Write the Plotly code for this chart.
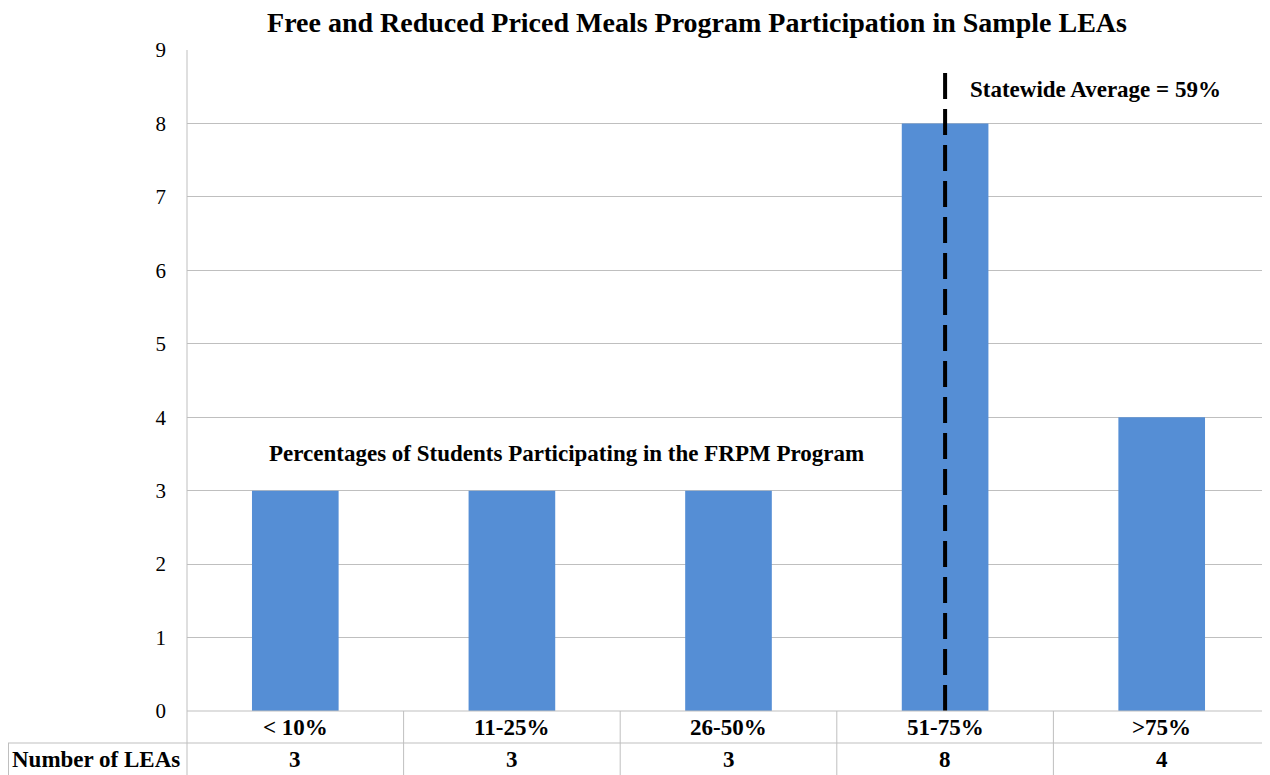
import plotly.graph_objects as go

categories = ["< 10%", "11-25%", "26-50%", "51-75%", ">75%"]
num_leas = [3, 3, 3, 8, 4]
row_label = "Number of LEAs"
title_text = "Free and Reduced Priced Meals Program Participation in Sample LEAs"
axis_note = "Percentages of Students Participating in the FRPM Program"
statewide_label = "Statewide Average = 59%"
statewide_category = "51-75%"
y_ticks = list(range(0, 10))

# page has an 8px body margin; work in page pixels and convert
OFF = 8
W, H = 1270 - OFF, 775 - OFF
PL, PT, PB, PR = 187, 50, 711, 1270  # plot area in page pixels
L, T = PL - OFF, PT - OFF
B = H - (PB - OFF)
R = W - (PR - OFF)
plot_h = PB - PT
plot_w = PR - PL

def py(page_y):
    return (PB - page_y) / plot_h

def px(page_x):
    return (page_x - PL) / plot_w

FONT = "Liberation Serif, Times New Roman, serif"
GRID = "#BFBFBF"

fig = go.Figure()
xs = list(range(len(categories)))
fig.add_trace(go.Bar(x=xs, y=num_leas, marker=dict(color="#558ED5", line=dict(width=0)),
                     width=0.4, hoverinfo="skip"))

sx = categories.index(statewide_category)
fig.add_trace(go.Scatter(x=[sx, sx], y=[0, 8.77], mode="lines",
                         line=dict(color="black", width=4, dash="26px,10px"), hoverinfo="skip"))

shapes = []
shapes.append(dict(type="line", xref="paper", yref="paper", x0=0, x1=0, y0=1, y1=py(775),
                   line=dict(color=GRID, width=1)))
shapes.append(dict(type="line", xref="paper", yref="paper", x0=0, x1=1, y0=0, y1=0,
                   line=dict(color=GRID, width=1)))
shapes.append(dict(type="line", xref="paper", yref="paper", x0=px(8), x1=1, y0=py(743), y1=py(743),
                   line=dict(color=GRID, width=1)))
shapes.append(dict(type="line", xref="paper", yref="paper", x0=px(8.5), x1=px(8.5), y0=py(743), y1=py(775),
                   line=dict(color=GRID, width=1)))
for i in range(1, len(categories)):
    shapes.append(dict(type="line", xref="x", yref="paper", x0=i - 0.5, x1=i - 0.5, y0=0, y1=py(775),
                       line=dict(color=GRID, width=1)))

TXT = dict(family=FONT, size=23, color="black")
annotations = []
for i, (c, n) in enumerate(zip(categories, num_leas)):
    annotations.append(dict(x=i, y=py(727), xref="x", yref="paper", text=f"<b>{c}</b>",
                            xanchor="center", yanchor="middle", showarrow=False, font=TXT))
    annotations.append(dict(x=i, y=py(759), xref="x", yref="paper", text=f"<b>{n}</b>",
                            xanchor="center", yanchor="middle", showarrow=False, font=TXT))
annotations.append(dict(x=px(96), y=py(759), xref="paper", yref="paper", text=f"<b>{row_label}</b>",
                        xanchor="center", yanchor="middle", showarrow=False, font=TXT))
annotations.append(dict(x=px(566), y=py(453), xref="paper", yref="paper", text=f"<b>{axis_note}</b>",
                        xanchor="center", yanchor="middle", showarrow=False, font=TXT))
annotations.append(dict(x=px(968), y=py(89), xref="paper", yref="paper", text=f"<b>{statewide_label}</b>",
                        xanchor="left", yanchor="middle", showarrow=False, font=TXT))

fig.update_layout(
    width=W, height=H,
    margin=dict(l=L, r=R, t=T, b=B, pad=0),
    paper_bgcolor="white", plot_bgcolor="white",
    showlegend=False,
    title=dict(text=f"<b>{title_text}</b>", x=(697 - OFF) / W, xanchor="center",
               y=1 - (22 - OFF) / H, yanchor="middle",
               font=dict(family=FONT, size=28, color="black")),
    xaxis=dict(range=[-0.5, len(categories) - 0.5], showticklabels=False, showgrid=False,
               zeroline=False, showline=False, fixedrange=True),
    yaxis=dict(range=[0, 9], tickvals=y_ticks, showgrid=True, gridcolor=GRID, gridwidth=1,
               zeroline=False, showline=False, ticks="", ticklabelstandoff=20,
               tickfont=dict(family=FONT, size=21, color="black"), fixedrange=True),
    shapes=shapes, annotations=annotations,
)

fig.write_html("out.html")
